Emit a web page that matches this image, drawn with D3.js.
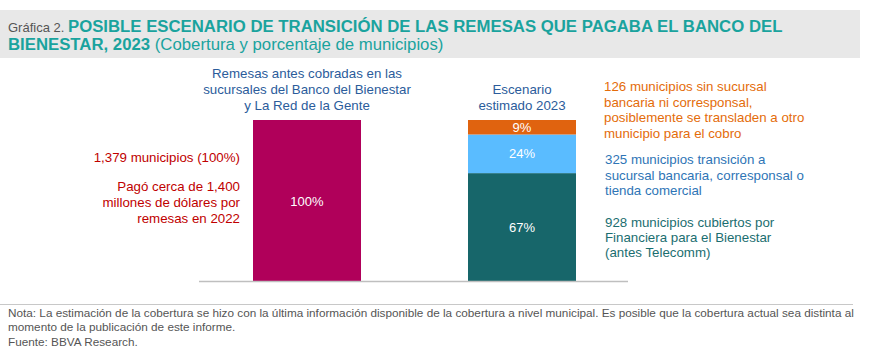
<!DOCTYPE html>
<html><head><meta charset="utf-8">
<script src="https://cdn.jsdelivr.net/npm/d3@7"></script>
<style>
body{margin:0;background:#fff;}
svg{display:block;}
.narrow{font-family:"Liberation Sans Narrow","Arial Narrow","Liberation Sans",Arial,sans-serif;}
.sans{font-family:"Liberation Sans",Arial,sans-serif;}
</style></head>
<body>
<svg id="c" width="871" height="352"></svg>
<script>
const categories = ["Remesas antes", "Escenario 2023"];
const segmentNames = ["Financiera para el Bienestar", "Transición", "Sin sucursal"];
const before = [100];
const scenario = [67, 24, 9];
const segmentLabels = ["67%", "24%", "9%"];
const beforeLabel = "100%";
const colors = {before: "#B0005A", scenario: ["#17666A", "#5ABCFF", "#E0630F"]};

const svg = d3.select("#c");

// Header band
svg.append("rect").attr("x",0).attr("y",10).attr("width",860).attr("height",48).attr("fill","#E8E8E8");
const t1 = svg.append("text").attr("class","narrow").attr("x",8).attr("y",32);
t1.append("tspan").attr("fill","#555").attr("font-size",13).text("Gráfica 2. ");
t1.append("tspan").attr("fill","#1AA39E").attr("font-size",16.75).attr("font-weight","bold").text("POSIBLE ESCENARIO DE TRANSICIÓN DE LAS REMESAS QUE PAGABA EL BANCO DEL");
const t2 = svg.append("text").attr("class","narrow").attr("x",8).attr("y",50);
t2.append("tspan").attr("fill","#1AA39E").attr("font-size",16.75).attr("font-weight","bold").text("BIENESTAR, 2023 ");
t2.append("tspan").attr("fill","#1AA39E").attr("font-size",16.75).text("(Cobertura y porcentaje de municipios)");

// Scales
const x = d3.scaleBand().domain(categories).range([253,576]).paddingInner(0.4977).paddingOuter(0);
const y = d3.scaleLinear().domain([0,100]).range([281,120]);

// Bar 1
svg.append("g").selectAll("rect").data(before).join("rect")
  .attr("x", x(categories[0])).attr("width", x.bandwidth())
  .attr("y", d=>y(d)).attr("height", d=>y(0)-y(d)).attr("fill", colors.before);
svg.append("text").attr("class","sans").attr("x", x(categories[0])+x.bandwidth()/2).attr("y", y(before[0]/2)+5)
  .attr("text-anchor","middle").attr("font-size",13).attr("fill","#fff").text(beforeLabel);

// Bar 2 stacked
let cum = 0;
const stacked = scenario.map((v,i)=>{const s={v, y0:cum, y1:cum+v, i}; cum+=v; return s;});
svg.append("g").selectAll("rect").data(stacked).join("rect")
  .attr("x", x(categories[1])).attr("width", x.bandwidth())
  .attr("y", d=>y(d.y1)).attr("height", d=>y(d.y0)-y(d.y1)).attr("fill", d=>colors.scenario[d.i]);
svg.append("g").selectAll("text").data(stacked).join("text").attr("class","sans")
  .attr("x", x(categories[1])+x.bandwidth()/2)
  .attr("y", d=> d.i===0 ? y(d.y1)+59 : (d.i===1 ? y(d.y1)+24 : y((d.y0+d.y1)/2)+5))
  .attr("text-anchor","middle").attr("font-size",13).attr("fill","#fff").text(d=>segmentLabels[d.i]);

// Baseline
svg.append("line").attr("x1",199).attr("x2",628).attr("y1",281.5).attr("y2",281.5).attr("stroke","#BFBFBF").attr("stroke-width",1.5);

function lines(xp, ys, arr, color, anchor){
  const g = svg.append("text").attr("class","sans").attr("font-size",13.3).attr("fill",color).attr("text-anchor",anchor||"start");
  arr.forEach((s,i)=>g.append("tspan").attr("x",xp).attr("y",ys[i]).text(s));
}
lines(307,[78,94,110],["Remesas antes cobradas en las","sucursales del Banco del Bienestar","y La Red de la Gente"],"#2B5C9B","middle");
lines(522,[94,110],["Escenario","estimado 2023"],"#2B5C9B","middle");
lines(240,[162],["1,379 municipios (100%)"],"#C00000","end");
lines(240,[191,207,223],["Pagó cerca de 1,400","millones de dólares por","remesas en 2022"],"#C00000","end");
lines(604,[91,107,122,138],["126 municipios sin sucursal","bancaria ni corresponsal,","posiblemente se transladen a otro","municipio para el cobro"],"#E46C0A");
lines(605,[164,180,195],["325 municipios transición a","sucursal bancaria, corresponsal o","tienda comercial"],"#2E75B6");
lines(605,[227,242,257],["928 municipios cubiertos por","Financiera para el Bienestar","(antes Telecomm)"],"#1B6E70");

// Footer
svg.append("line").attr("x1",0).attr("x2",853).attr("y1",304.5).attr("y2",304.5).attr("stroke","#C8C8C8").attr("stroke-width",1);
const f = svg.append("text").attr("class","narrow").attr("font-size",11.75).attr("fill","#555");
[["Nota: La estimación de la cobertura se hizo con la última información disponible de la cobertura a nivel municipal. Es posible que la cobertura actual sea distinta al",317],
 ["momento de la publicación de este informe.",331],["Fuente: BBVA Research.",346]].forEach(([s,yy])=>f.append("tspan").attr("x",8).attr("y",yy).text(s));
</script>
</body></html>
